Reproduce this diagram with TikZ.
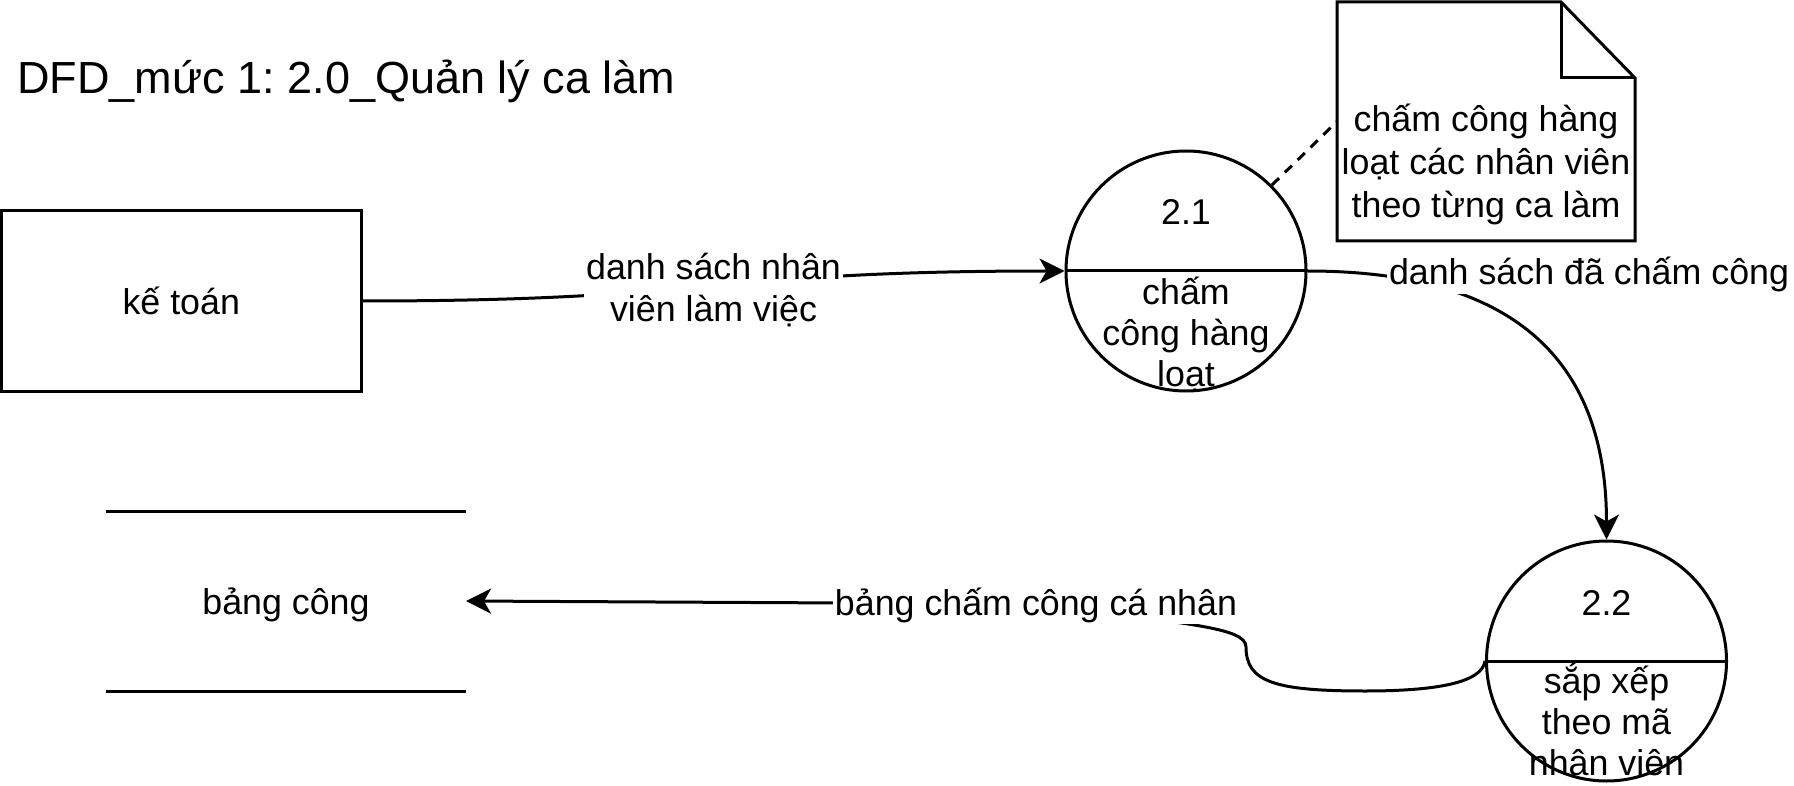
\documentclass[tikz,border=0pt]{standalone}
\usepackage{fontspec}
\setmainfont{Liberation Sans}
\usepackage{tikz}
\usetikzlibrary{arrows.meta,positioning}
\newcommand{\bodyfont}{\fontsize{17.9pt}{20.6pt}\selectfont}
\newcommand{\notefont}{\fontsize{17.9pt}{21.5pt}\selectfont}
\newcommand{\titlefont}{\fontsize{22.5pt}{27pt}\selectfont}
\frenchspacing

\begin{document}
\begin{tikzpicture}[
  x=0.5pt, y=-0.5pt,
  font=\bodyfont,
  line width=1.5pt,
  ent/.style={draw, minimum width=179.75pt, minimum height=90.25pt},
  proc/.style={draw, circle, minimum size=120pt, inner sep=0pt},
  store/.style={minimum width=180pt, minimum height=90pt, outer sep=0pt, text depth=0pt},
  notebox/.style={minimum width=149pt, minimum height=119.5pt, inner sep=0pt, outer sep=0pt},
  txt/.style={align=center, inner sep=1pt},
  lbl/.style={fill=white, align=center, inner sep=1pt},
  arr/.style={-{Stealth[length=12.5pt, width=12.5pt, inset=3.5pt]}}
]
\useasboundingbox (0,0) rectangle (1794,786);

\node[anchor=base west, inner sep=0pt, font=\titlefont] (title) at (16,94) {DFD\_mức 1: 2.0\_Quản lý ca làm};

\node[ent] (kt) at (181.25,301) {kế toán};

\node[proc] (p21) at (1186,271) {};
\draw (p21.west) -- (p21.east);
\node[anchor=base] (n21) at ([yshift=23pt]p21.center) {2.1};
\node[txt] (t21) at ([yshift=-31.7pt]p21.center) {chấm\\công hàng\\loạt};

\node[proc] (p22) at (1606.5,661) {};
\draw (p22.west) -- (p22.east);
\node[anchor=base] (n22) at ([yshift=23pt]p22.center) {2.2};
\node[txt] (t22) at ([yshift=-29pt]p22.center) {sắp xếp\\theo mã\\nhân viên};

\node[store] (bc) at (286,601) {bảng công};
\draw (bc.north west) -- (bc.north east);
\draw (bc.south west) -- (bc.south east);

\node[notebox] (note) at (1486,121.5) {};
\draw (note.north west) -- ([xshift=-37pt]note.north east) -- ([yshift=-38pt]note.north east)
  -- (note.south east) -- (note.south west) -- cycle;
\draw ([xshift=-37pt]note.north east) |- ([yshift=-38pt]note.north east);
\node[txt, font=\notefont] (nt) at (1486,164) {chấm công hàng\\loạt các nhân viên\\theo từng ca làm};
\draw[dash pattern=on 5pt off 4pt] (p21.45) -- (note.west);

\coordinate (w1) at (1365,691);
\coordinate (w2) at (1246,647);
\coordinate (w3) at (1036,604);

\draw[arr] (kt.east) to[out=0, in=180, looseness=1.3]
  node[lbl, yshift=-2pt] (l1) {danh sách nhân\\viên làm việc} (p21.west);
\draw[arr] (p21.east) .. controls +(194,0) and +(0,-190) .. (p22.north)
  node[lbl, at start, anchor=base west, xshift=39pt, yshift=-6.75pt] (l2) {danh sách đã chấm công};
\draw[arr] (p22.west) .. controls +(-3,22) and +(70,0) .. (w1)
  .. controls +(-90,0) and +(0,35) .. (w2)
  .. controls +(0,-20) and +(150,20) .. (w3) -- (bc.east)
  node[lbl, at start, anchor=base, yshift=-5.5pt] (l3) {bảng chấm công cá nhân};
\end{tikzpicture}
\end{document}
